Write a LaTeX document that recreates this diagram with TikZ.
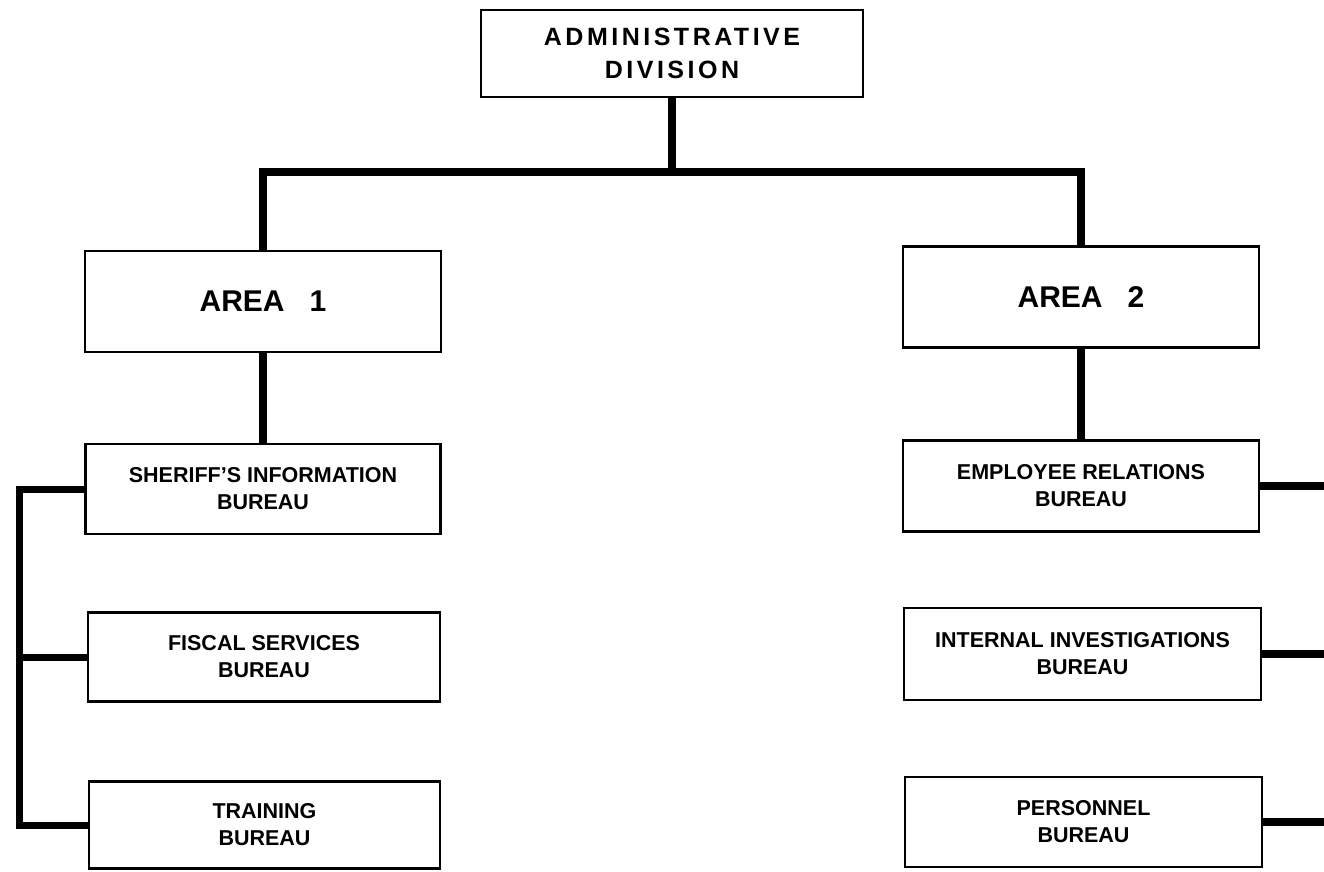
\documentclass[tikz,border=0pt]{standalone}
\usepackage{fontspec}
\setmainfont{Liberation Sans}
\newfontfamily\boxfont{Liberation Sans}[LetterSpace=14]
\begin{document}
\begin{tikzpicture}[x=1pt,y=-1pt,
  box/.style={draw=black, line width=2.8pt, rectangle, inner sep=0pt, align=center, fill=white},
  bureau/.style={box, font=\fontsize{21.5}{27}\selectfont\bfseries},
  areabox/.style={box, font=\fontsize{30}{36}\selectfont\bfseries},
  conn/.style={line width=8pt, line cap=butt, line join=miter},
  brk/.style={line width=7pt, line cap=butt, line join=miter}]
\useasboundingbox[fill=white] (0,0) rectangle (1324,871);

% top
\node[box, minimum width=382pt, minimum height=87pt, font=\boxfont\fontsize{25}{32.5}\selectfont\bfseries] (top) at (672,53.5) {ADMINISTRATIVE\\DIVISION};

% areas
\node[areabox, minimum width=356pt, minimum height=101pt] (a1) at (263,301.5) {AREA~~~1};
\node[areabox, minimum width=356pt, minimum height=101pt] (a2) at (1081,297) {AREA~~~2};

% left bureaus
\node[bureau, minimum width=355pt, minimum height=90pt] (sib) at (263,489) {SHERIFF'S INFORMATION\\BUREAU};
\node[bureau, minimum width=352pt, minimum height=89pt] (fis) at (264,657) {FISCAL SERVICES\\BUREAU};
\node[bureau, minimum width=351pt, minimum height=87pt] (trn) at (264.5,825) {TRAINING\\BUREAU};

% right bureaus
\node[bureau, minimum width=356pt, minimum height=91pt] (emp) at (1081,486) {EMPLOYEE RELATIONS\\BUREAU};
\node[bureau, minimum width=357pt, minimum height=92pt] (int) at (1082.5,654) {INTERNAL INVESTIGATIONS\\BUREAU};
\node[bureau, minimum width=357pt, minimum height=90pt] (per) at (1083.5,822) {PERSONNEL\\BUREAU};

% coordinates
\coordinate (bus) at (672,172);
\coordinate (lb) at (19,0);
\coordinate (rb) at (1324,0);

% tree connectors
\draw[conn] (top.south) -- (bus);
\draw[conn] (a1.north) |- (bus) -| (a2.north);
\draw[conn] (a1.south) -- (a1.south |- sib.north);
\draw[conn] (a2.south) -- (a2.south |- emp.north);

% left bracket
\draw[brk] (sib.west) -- (sib.west -| lb) |- (trn.west);
\draw[brk] (fis.west) -- (fis.west -| lb);

% right connectors
\draw[conn] (emp.east) -- (emp.east -| rb);
\draw[conn] (int.east) -- (int.east -| rb);
\draw[conn] (per.east) -- (per.east -| rb);
\end{tikzpicture}
\end{document}
